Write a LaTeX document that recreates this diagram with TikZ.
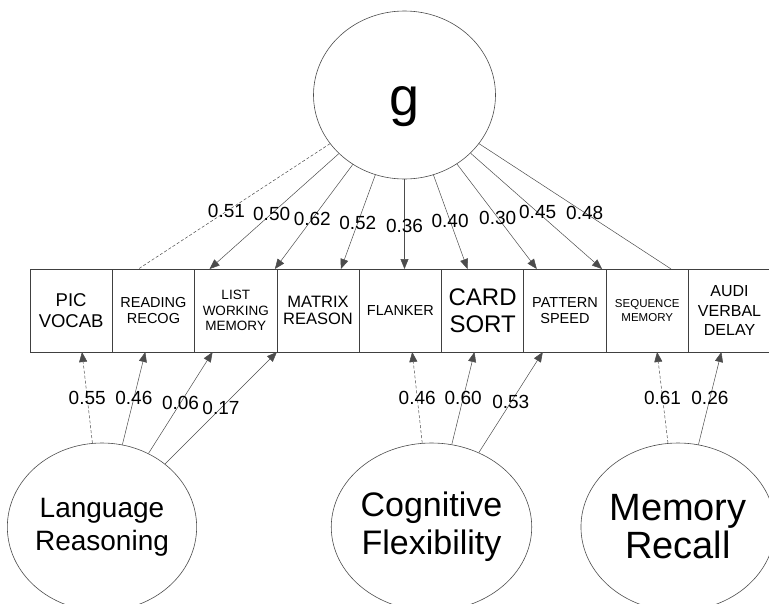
\documentclass[tikz,border=0pt]{standalone}
\usepackage{fontspec}
\setmainfont{Liberation Sans}
\usepackage{xcolor}
\usepackage{tikz}
\usetikzlibrary{shapes.geometric, arrows.meta, positioning}
\newcommand{\fsz}[2]{\fontsize{#1}{#2}\selectfont}
\tikzstyle{latent} = [ellipse, minimum width=182pt, minimum height=168pt, inner sep=0pt, draw=black!70, line width=0.6pt, align=center]
\tikzstyle{measure} = [rectangle, minimum width=82.3pt, minimum height=83pt, inner sep=1pt, outer sep=0pt, draw=black!75, line width=0.7pt, align=center]
\tikzstyle{loading} = [draw=black!70, line width=0.5pt, -{Triangle[length=10pt,width=8pt]}]
\tikzstyle{coef} = [font=\fsz{19}{21}, inner sep=1pt]

\begin{document}
\begin{tikzpicture}[x=1pt, y=-1pt, node distance=0pt]
    \useasboundingbox (0,0) rectangle (769,603);

    % observed measures
    \node (pic) [measure, anchor=north west, font=\fsz{18.5}{21.5}] at (30,269) {PIC\\VOCAB};
    \node (reading) [measure, right=of pic, font=\fsz{14.5}{16.7}] {READING\\RECOG};
    \node (list) [measure, right=of reading, font=\fsz{13.5}{15.5}] {LIST\\WORKING\\MEMORY};
    \node (matrix) [measure, right=of list, font=\fsz{16.5}{17.5}] {MATRIX\\REASON};
    \node (flanker) [measure, right=of matrix, font=\fsz{14.5}{16}] {FLANKER};
    \node (card) [measure, right=of flanker, font=\fsz{24}{26.7}] {CARD\\SORT};
    \node (pattern) [measure, right=of card, font=\fsz{14.5}{16}] {PATTERN\\SPEED};
    \node (sequence) [measure, right=of pattern, font=\fsz{11.5}{13.3}] {SEQUENCE\\MEMORY};
    \node (audi) [measure, right=of sequence, font=\fsz{16}{19.5}] {AUDI\\VERBAL\\DELAY};

    % latent factors
    \node (g) [latent] at (404.5,95) {};
    \node (glabel) [font=\fsz{54}{60}] at ([yshift=-11.5pt]g.center) {g};
    \node (lang) [latent, font=\fsz{28}{33}] at (102,527) {Language\\Reasoning};
    \node (cogflex) [latent, font=\fsz{34}{38}] at (431.5,527) {Cognitive\\Flexibility};
    \node (memory) [latent, font=\fsz{38}{38}] at (678,527) {Memory\\Recall};

    % general factor loadings
    \draw [loading, -, dash pattern=on 3pt off 2pt] (g) -- node[coef, pos=0.54] {0.51} ([xshift=26pt]reading.north west);
    \draw [loading] (g) -- node[coef, pos=0.52] {0.50} ([xshift=15pt]list.north west);
    \draw [loading] (g) -- node[coef, pos=0.52] {0.62} ([xshift=-2pt]list.north east);
    \draw [loading] (g) -- node[coef, pos=0.51] {0.52} ([xshift=64pt]matrix.north west);
    \draw [loading] (g) -- node[coef, pos=0.52] {0.36} (g |- flanker.north);
    \draw [loading] (g) -- node[coef, pos=0.49] {0.40} ([xshift=26pt]card.north west);
    \draw [loading] (g) -- node[coef, pos=0.51] {0.30} ([xshift=13pt]pattern.north west);
    \draw [loading] (g) -- node[coef, pos=0.51] {0.45} ([xshift=-4pt]pattern.north east);
    \draw [loading, -] (g) -- node[coef, pos=0.55] {0.48} ([xshift=65pt]sequence.north west);

    % group factor loadings
    \draw [loading, dash pattern=on 3pt off 2pt] (lang) -- node[coef, pos=0.5] {0.55} ([xshift=52pt]pic.south west);
    \draw [loading] (lang) -- node[coef, pos=0.5] {0.46} ([xshift=33pt]reading.south west);
    \draw [loading] (lang) -- node[coef, pos=0.5] {0.06} ([xshift=18pt]list.south west);
    \draw [loading] (lang) -- node[coef, pos=0.5] {0.17} (list.south east);
    \draw [loading, dash pattern=on 3pt off 2pt] (cogflex) -- node[coef, pos=0.5] {0.46} ([xshift=53pt]flanker.south west);
    \draw [loading] (cogflex) -- node[coef, pos=0.5] {0.60} ([xshift=33pt]card.south west);
    \draw [loading] (cogflex) -- node[coef, pos=0.5] {0.53} ([xshift=19pt]pattern.south west);
    \draw [loading, dash pattern=on 3pt off 2pt] (memory) -- node[coef, pos=0.5] {0.61} ([xshift=51pt]sequence.south west);
    \draw [loading] (memory) -- node[coef, pos=0.5] {0.26} ([xshift=33pt]audi.south west);
\end{tikzpicture}
\end{document}
